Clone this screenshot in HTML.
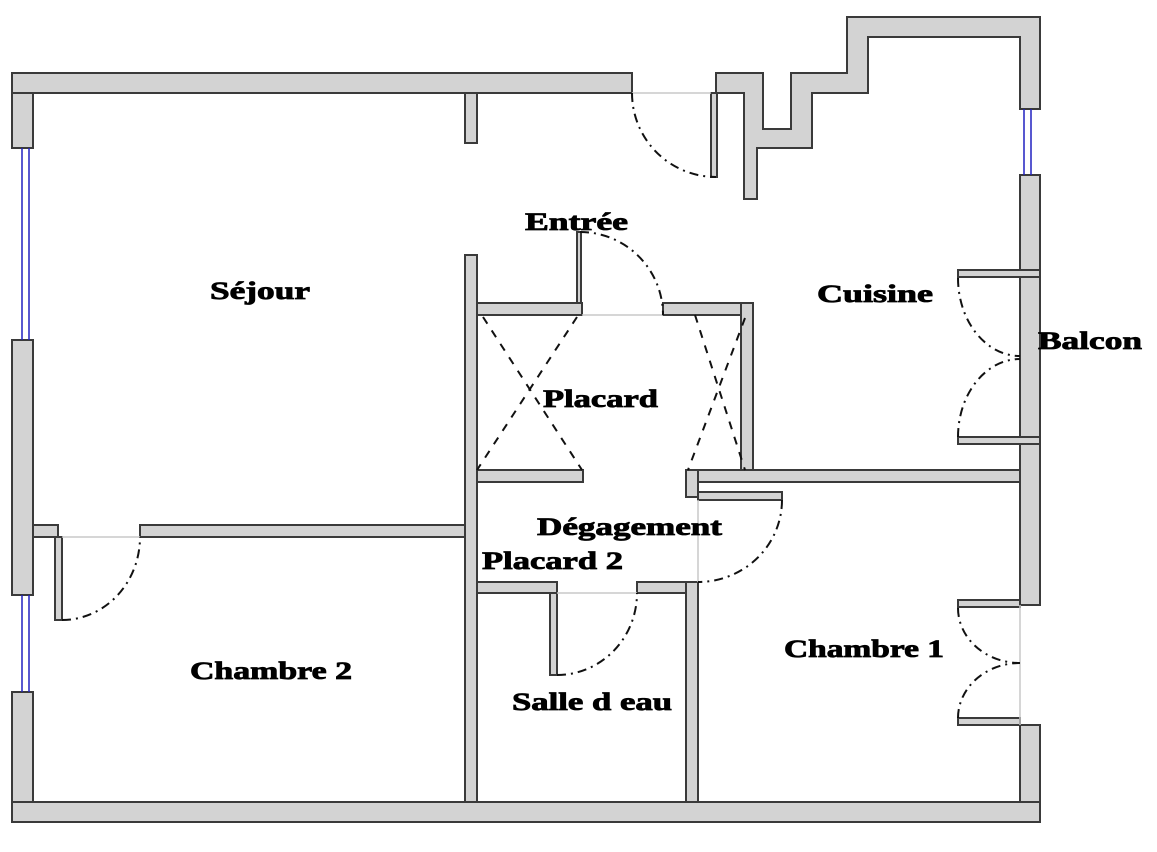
<!DOCTYPE html>
<html><head><meta charset="utf-8"><style>html,body{margin:0;padding:0;background:#fff}svg{display:block}text{font-family:"Liberation Serif",serif;font-weight:bold;font-size:25px;fill:#000;stroke:#000;stroke-width:0.8}</style></head>
<body>
<svg width="1157" height="852" viewBox="0 0 1157 852" xmlns="http://www.w3.org/2000/svg">
<g fill="#d3d3d3" stroke="#3a3a3a" stroke-width="2">
<rect x="12" y="73" width="21" height="75"/>
<rect x="12" y="340" width="21" height="255"/>
<rect x="12" y="692" width="21" height="110"/>
<rect x="1020" y="725" width="20" height="77"/>
<rect x="12" y="73" width="620" height="20"/>
<rect x="465" y="93" width="12" height="50"/>
<rect x="12" y="802" width="1028" height="20"/>
<path d="M716,73 L763,73 L763,129 L791,129 L791,73 L847,73 L847,17 L1040,17 L1040,109 L1020,109 L1020,37 L868,37 L868,93 L812,93 L812,148 L757,148 L757,199 L744,199 L744,93 L716,93 Z"/>
<rect x="1020" y="175" width="20" height="430"/>
<rect x="33" y="525" width="25" height="12"/>
<rect x="140" y="525" width="325" height="12"/>
<rect x="465" y="255" width="12" height="547"/>
<rect x="477" y="303" width="105" height="12"/>
<rect x="663" y="303" width="90" height="12"/>
<rect x="741" y="303" width="12" height="167"/>
<rect x="477" y="470" width="106" height="12"/>
<rect x="686" y="470" width="334" height="12"/>
<rect x="686" y="470" width="12" height="27"/>
<rect x="686" y="582" width="12" height="220"/>
<rect x="477" y="582" width="80" height="11"/>
<rect x="637" y="582" width="49" height="11"/>
<rect x="711" y="93" width="6" height="84"/>
<rect x="577" y="232" width="4" height="71"/>
<rect x="55" y="537" width="7" height="83"/>
<rect x="550" y="593" width="7" height="82"/>
<rect x="698" y="492" width="84" height="8"/>
<rect x="958" y="270" width="82" height="7"/>
<rect x="958" y="437" width="82" height="7"/>
<rect x="958" y="600" width="62" height="7"/>
<rect x="958" y="718" width="62" height="7"/>
</g>
<g stroke="#2020c0" stroke-width="1.5">
<line x1="22" y1="148" x2="22" y2="340"/><line x1="29" y1="148" x2="29" y2="340"/>
<line x1="22" y1="595" x2="22" y2="692"/><line x1="29" y1="595" x2="29" y2="692"/>
<line x1="1024" y1="109" x2="1024" y2="175"/><line x1="1031" y1="109" x2="1031" y2="175"/>
</g>
<g stroke="#c8c8c8" stroke-width="1.5">
<line x1="632" y1="93" x2="711" y2="93"/>
<line x1="582" y1="315" x2="663" y2="315"/>
<line x1="62" y1="537" x2="140" y2="537"/>
<line x1="557" y1="593" x2="637" y2="593"/>
<line x1="698" y1="500" x2="698" y2="582"/>
<line x1="1020" y1="605" x2="1020" y2="725"/>
</g>
<g fill="none" stroke="#111" stroke-width="2" stroke-dasharray="9,5,2,5">
<path d="M632,93 A84,84 0 0 0 716,177"/>
<path d="M580,232 A83,83 0 0 1 663,315"/>
<path d="M62,620 A78,83 0 0 0 140,537"/>
<path d="M557,675 A80,82 0 0 0 637,593"/>
<path d="M782,500 A84,82 0 0 1 698,582"/>
<path d="M958,278 A62,78 0 0 0 1020,356"/>
<path d="M958,437 A62,78 0 0 1 1020,359"/>
<path d="M958,608 A62,55 0 0 0 1020,663"/>
<path d="M958,718 A62,55 0 0 1 1020,663"/>
</g>
<g fill="none" stroke="#111" stroke-width="2" stroke-dasharray="8,8">
<line x1="483" y1="317" x2="582" y2="470"/>
<line x1="577" y1="317" x2="477" y2="470"/>
<line x1="695" y1="315" x2="745" y2="470"/>
<line x1="745" y1="318" x2="688" y2="470"/>
</g>
<text x="210" y="299" textLength="100" lengthAdjust="spacingAndGlyphs">Séjour</text>
<text x="525" y="230" textLength="103" lengthAdjust="spacingAndGlyphs">Entrée</text>
<text x="817" y="302" textLength="116" lengthAdjust="spacingAndGlyphs">Cuisine</text>
<text x="1038" y="349" textLength="104" lengthAdjust="spacingAndGlyphs">Balcon</text>
<text x="543" y="407" textLength="115" lengthAdjust="spacingAndGlyphs">Placard</text>
<text x="537" y="535" textLength="185" lengthAdjust="spacingAndGlyphs">Dégagement</text>
<text x="482" y="569" textLength="141" lengthAdjust="spacingAndGlyphs">Placard 2</text>
<text x="190" y="679" textLength="162" lengthAdjust="spacingAndGlyphs">Chambre 2</text>
<text x="512" y="710" textLength="160" lengthAdjust="spacingAndGlyphs">Salle d eau</text>
<text x="784" y="657" textLength="160" lengthAdjust="spacingAndGlyphs">Chambre 1</text>
</svg>
</body></html>
